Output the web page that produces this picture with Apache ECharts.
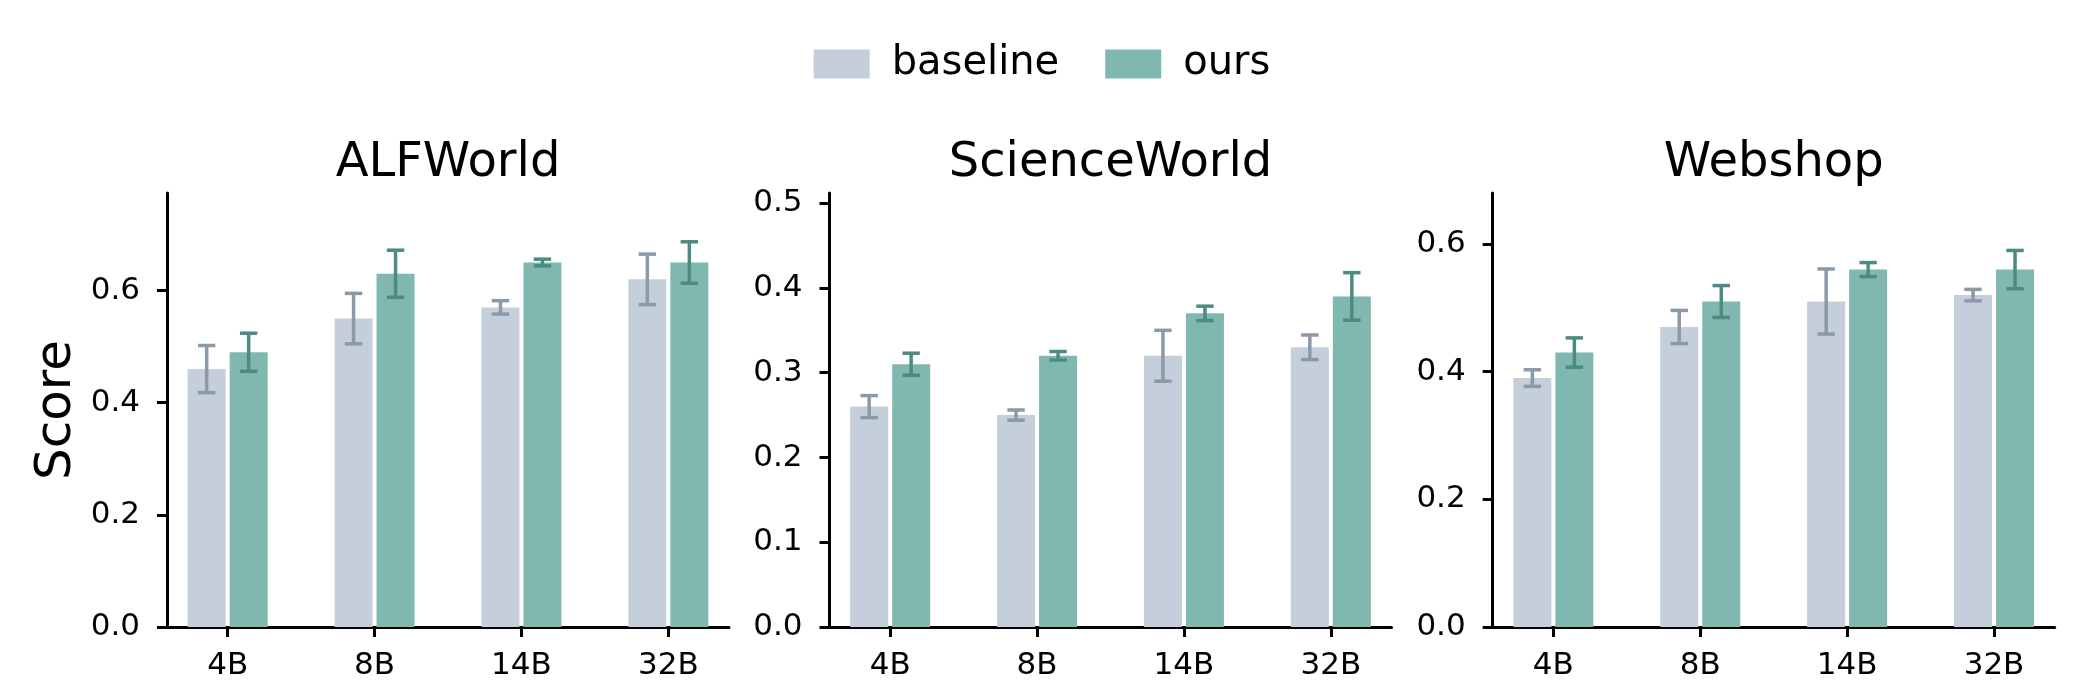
<!DOCTYPE html>
<html style="height: 100%">
    <head>
        <meta charset="utf-8">
    </head>
    <body style="height: 100%; margin: 0">
        <div id="container" style="width: 2084px; height: 681px"></div>

        <script type="text/javascript" src="https://cdn.jsdelivr.net/npm/echarts@6/dist/echarts.min.js"></script>

        <script type="text/javascript">
var dom = document.getElementById("container");
var myChart = echarts.init(dom, null, { renderer: 'canvas' });

// ---- data ----
var sizes = ['4B', '8B', '14B', '32B'];
var panelTitles = ['ALFWorld', 'ScienceWorld', 'Webshop'];

var alfBase = [0.46, 0.55, 0.57, 0.62];
var alfBaseErr = [0.042, 0.045, 0.012, 0.045];
var alfOurs = [0.49, 0.63, 0.65, 0.65];
var alfOursErr = [0.034, 0.042, 0.006, 0.037];

var sciBase = [0.26, 0.25, 0.32, 0.33];
var sciBaseErr = [0.013, 0.006, 0.03, 0.0145];
var sciOurs = [0.31, 0.32, 0.37, 0.39];
var sciOursErr = [0.013, 0.005, 0.0085, 0.028];

var webBase = [0.39, 0.47, 0.51, 0.52];
var webBaseErr = [0.013, 0.026, 0.051, 0.009];
var webOurs = [0.43, 0.51, 0.56, 0.56];
var webOursErr = [0.023, 0.025, 0.011, 0.03];

var yMax = [0.774, 0.512, 0.68];
var yTicks = [
    [0, 0.2, 0.4, 0.6],
    [0, 0.1, 0.2, 0.3, 0.4, 0.5],
    [0, 0.2, 0.4, 0.6]
];

// ---- style ----
var FONT = 'DejaVu Sans';
var BASE_COLOR = '#c5cfdb';
var OURS_COLOR = '#80b8b0';
var BASE_ERR = '#8b99a8';
var OURS_ERR = '#4b8b81';
var BAR_W = 38;
var BAR_GAP = 4;
var gridLefts = [167, 829.5, 1492.7];
var GRID_TOP = 193;
var GRID_W = 562;
var GRID_H = 439;

var panels = [
    [alfBase, alfBaseErr, alfOurs, alfOursErr],
    [sciBase, sciBaseErr, sciOurs, sciOursErr],
    [webBase, webBaseErr, webOurs, webOursErr]
];

function errorSeries(gridIdx, means, errs, color, side) {
    return {
        type: 'custom',
        name: 'err',
        xAxisIndex: gridIdx,
        yAxisIndex: gridIdx,
        z: 10,
        silent: true,
        data: means.map(function (m, i) { return [i, m - errs[i], m + errs[i]]; }),
        encode: { x: 0, y: [1, 2] },
        renderItem: function (params, api) {
            var x = api.value(0);
            var lo = api.coord([x, api.value(1)]);
            var hi = api.coord([x, api.value(2)]);
            var px = lo[0] + side * (BAR_W + BAR_GAP) / 2;
            var cap = 8.7;
            var st = { stroke: color, lineWidth: 3.5 };
            return {
                type: 'group',
                children: [
                    { type: 'line', shape: { x1: px, y1: lo[1], x2: px, y2: hi[1] }, style: st },
                    { type: 'line', shape: { x1: px - cap, y1: lo[1], x2: px + cap, y2: lo[1] }, style: st },
                    { type: 'line', shape: { x1: px - cap, y1: hi[1], x2: px + cap, y2: hi[1] }, style: st }
                ]
            };
        }
    };
}

var grids = [], xAxes = [], yAxes = [], titles = [], series = [];

for (var g = 0; g < 3; g++) {
    grids.push({ left: gridLefts[g], top: GRID_TOP, width: GRID_W, height: GRID_H });
    titles.push({
        text: panelTitles[g],
        left: gridLefts[g] + GRID_W / 2,
        top: 140,
        textAlign: 'center',
        padding: 0,
        textStyle: { fontFamily: FONT, fontSize: 48, fontWeight: 'normal', color: '#000' }
    });
    xAxes.push({
        type: 'value',
        gridIndex: g,
        min: -0.413,
        max: 3.413,
        splitLine: { show: false },
        axisLine: { show: true, onZero: false, lineStyle: { color: '#000', width: 3 } },
        axisTick: { show: true, customValues: [0, 1, 2, 3], length: 10, lineStyle: { color: '#000', width: 3 } },
        axisLabel: {
            customValues: [0, 1, 2, 3],
            margin: 23,
            fontFamily: FONT, fontSize: 31, color: '#000',
            formatter: function (v) { return sizes[v]; }
        }
    });
    yAxes.push({
        type: 'value',
        gridIndex: g,
        min: 0,
        max: yMax[g],
        name: g === 0 ? 'Score' : '',
        nameLocation: 'middle',
        nameRotate: 90,
        nameGap: 85,
        nameTextStyle: { fontFamily: FONT, fontSize: 50, color: '#000' },
        splitLine: { show: false },
        axisLine: { show: true, onZero: false, lineStyle: { color: '#000', width: 3 } },
        axisTick: { show: true, customValues: yTicks[g], length: 10, lineStyle: { color: '#000', width: 3 } },
        axisLabel: {
            customValues: yTicks[g],
            margin: 27,
            fontFamily: FONT, fontSize: 31, color: '#000',
            formatter: function (v) { return v.toFixed(1); }
        }
    });

    var p = panels[g];
    series.push({
        type: 'bar', name: 'baseline', xAxisIndex: g, yAxisIndex: g,
        barWidth: BAR_W, barGap: (BAR_GAP / BAR_W * 100) + '%',
        itemStyle: { color: BASE_COLOR },
        data: p[0].map(function (v, i) { return [i, v]; })
    });
    series.push({
        type: 'bar', name: 'ours', xAxisIndex: g, yAxisIndex: g,
        barWidth: BAR_W, barGap: (BAR_GAP / BAR_W * 100) + '%',
        itemStyle: { color: OURS_COLOR },
        data: p[2].map(function (v, i) { return [i, v]; })
    });
    series.push(errorSeries(g, p[0], p[1], BASE_ERR, -1));
    series.push(errorSeries(g, p[2], p[3], OURS_ERR, 1));
}

var option = {
    animation: false,
    backgroundColor: '#ffffff',
    title: titles,
    legend: {
        data: ['baseline', 'ours'],
        top: 39,
        left: 'center',
        icon: 'rect',
        itemWidth: 56,
        itemHeight: 29,
        itemGap: 46,
        selectedMode: false,
        textStyle: { fontFamily: FONT, fontSize: 40, color: '#000', padding: [0, 0, 0, 17] }
    },
    grid: grids,
    xAxis: xAxes,
    yAxis: yAxes,
    series: series
};

myChart.setOption(option);
        </script>
    </body>
</html>
